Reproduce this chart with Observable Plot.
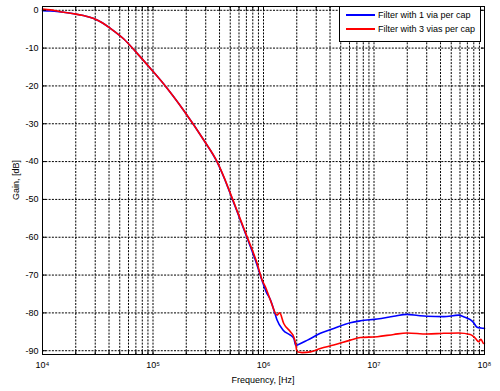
<!DOCTYPE html>
<html><head><meta charset="utf-8">
<script src="https://cdn.jsdelivr.net/npm/d3@7"></script>
<script src="https://cdn.jsdelivr.net/npm/@observablehq/plot@0.6"></script>
<style>
body{margin:0;background:#fff;}
#wrap{position:relative;width:500px;height:391px;font-family:"Liberation Sans",Arial,sans-serif;color:#000;}
#legend{position:absolute;left:339px;top:6px;width:142px;height:36px;border:1px solid #000;background:#fff;font-size:9px;box-sizing:border-box;}
.row{position:absolute;left:6px;height:10px;display:flex;align-items:center;white-space:nowrap;}
.sw{width:29px;height:2px;margin-right:3px;}
#xlabel{position:absolute;left:0;width:526px;top:375px;text-align:center;font-size:9px;}
#ylabel{position:absolute;left:16px;top:180px;font-size:9px;transform:translate(-50%,-50%) rotate(-90deg);white-space:nowrap;}
</style>
</head><body>
<div id="wrap"></div>
<script>
// Blue series: Filter with 1 via per cap
const freq1 = [1e4, 11.8e3, 14.1e3, 19.2e3, 23.4e3, 29.1e3, 34.7e3, 41.2e3, 54.4e3, 71.9e3, 94.9e3, 125e3, 189.7e3, 287.7e3, 380e3, 436e3, 520e3, 711e3, 875e3, 971e3, 1.06e6, 1.153e6, 1.28e6, 1.327e6, 1.5e6, 1.75e6, 1.88e6, 1.96e6, 2.05e6, 2.5e6, 3.27e6, 4.32e6, 6.11e6, 7.53e6, 10.7e6, 15.1e6, 19.9e6, 25e6, 30.2e6, 42.7e6, 58.3e6, 64.7e6, 74.4e6, 79.8e6, 85.6e6, 93e6, 1e8];
const gain1 = [-0.1, -0.2, -0.4, -0.9, -1.4, -2.2, -3.3, -4.8, -7.6, -11.4, -15.4, -19.5, -26.5, -34.3, -40.1, -44.0, -49.8, -60.2, -67.4, -71.5, -74.5, -76.5, -80.5, -81.9, -84.5, -85.9, -86.7, -88.6, -88.4, -87.2, -85.4, -84.1, -82.6, -82.1, -81.6, -80.9, -80.4, -80.7, -80.9, -81.0, -80.6, -81.0, -81.8, -82.6, -83.8, -84.0, -84.1];
// Red series: Filter with 3 vias per cap
const freq3 = [1e4, 11.8e3, 14.1e3, 19.2e3, 23.4e3, 29.1e3, 34.7e3, 41.2e3, 54.4e3, 71.9e3, 94.9e3, 125e3, 189.7e3, 287.7e3, 380e3, 436e3, 520e3, 711e3, 875e3, 971e3, 1.04e6, 1.153e6, 1.327e6, 1.40e6, 1.524e6, 1.751e6, 1.876e6, 1.95e6, 2.013e6, 2.234e6, 2.655e6, 3.27e6, 4.32e6, 6.11e6, 7.53e6, 10.7e6, 15.1e6, 19.9e6, 30.2e6, 42.7e6, 58.3e6, 74.4e6, 82.6e6, 88.5e6, 93e6, 98.2e6, 1e8];
const gain3 = [0.3, 0.1, -0.3, -0.9, -1.4, -2.2, -3.3, -4.8, -7.6, -11.4, -15.4, -19.5, -26.5, -34.3, -40.0, -43.9, -49.6, -59.9, -66.9, -71.3, -73.1, -76.6, -80.6, -80.0, -82.8, -85.0, -86.3, -88.0, -90.3, -90.5, -90.3, -89.4, -88.5, -87.2, -86.5, -86.3, -85.7, -85.3, -85.6, -85.4, -85.3, -85.7, -86.7, -87.6, -87.0, -88.1, -88.0];

const seriesNames = ["Filter with 1 via per cap", "Filter with 3 vias per cap"];
const seriesColors = ["#0000ff", "#ff0000"];
const xTickValues = [1e4, 1e5, 1e6, 1e7, 1e8];
const xTickLabels = ["10\u2074", "10\u2075", "10\u2076", "10\u2077", "10\u2078"];
const yTickValues = [0, -10, -20, -30, -40, -50, -60, -70, -80, -90];
const yTickLabels = ["0", "-10", "-20", "-30", "-40", "-50", "-60", "-70", "-80", "-90"];
const xLabel = "Frequency, [Hz]";
const yLabel = "Gain, [dB]";

const data = [
  ...freq1.map((f, i) => ({f, g: gain1[i], s: seriesNames[0]})),
  ...freq3.map((f, i) => ({f, g: gain3[i], s: seriesNames[1]}))
];
const minorTicks = d3.scaleLog().domain([1e4, 1e8]).ticks();
const gridStyle = {stroke: "#000", strokeOpacity: 1, strokeWidth: 1, strokeDasharray: "2,1.3"};

const chart = Plot.plot({
  width: 500, height: 391,
  marginLeft: 42, marginRight: 16, marginTop: 6, marginBottom: 37,
  style: {fontFamily: "'Liberation Sans', Arial, sans-serif", fontSize: "9px", background: "#fff", color: "#000"},
  x: {type: "log", domain: [1e4, 1e8]},
  y: {domain: [-91, 1]},
  color: {domain: seriesNames, range: seriesColors},
  marks: [
    Plot.gridX(minorTicks, gridStyle),
    Plot.gridY(yTickValues, gridStyle),
    Plot.line(data, {x: "f", y: "g", z: "s", stroke: "s", strokeWidth: 1.6, curve: "monotone-x"}),
    Plot.frame({stroke: "#000", strokeWidth: 1}),
    Plot.axisX(xTickValues, {anchor: "bottom", tickSize: 0, tickPadding: 7, tickFormat: d => xTickLabels[xTickValues.indexOf(d)], label: null}),
    Plot.axisY(yTickValues, {anchor: "left", tickSize: 0, tickPadding: 4, tickFormat: d => yTickLabels[yTickValues.indexOf(d)], label: null}),
    Plot.axisX(minorTicks, {anchor: "bottom", tickSize: -3, tickFormat: () => "", label: null}),
    Plot.axisX(minorTicks, {anchor: "top", tickSize: -3, tickFormat: () => "", label: null}),
    Plot.axisY(yTickValues, {anchor: "left", tickSize: -4, tickFormat: () => "", label: null}),
    Plot.axisY(yTickValues, {anchor: "right", tickSize: -4, tickFormat: () => "", label: null})
  ]
});
const wrap = document.getElementById("wrap");
wrap.appendChild(chart);

const xl = document.createElement("div"); xl.id = "xlabel"; xl.textContent = xLabel; wrap.appendChild(xl);
const yl = document.createElement("div"); yl.id = "ylabel"; yl.textContent = yLabel; wrap.appendChild(yl);
const lg = document.createElement("div"); lg.id = "legend";
seriesNames.forEach((name, i) => {
  const r = document.createElement("div"); r.className = "row"; r.style.top = (8 + i * 14 - 5) + "px";
  const sw = document.createElement("div"); sw.className = "sw"; sw.style.background = seriesColors[i];
  const t = document.createElement("span"); t.textContent = name;
  r.appendChild(sw); r.appendChild(t); lg.appendChild(r);
});
wrap.appendChild(lg);
</script>
</body></html>
